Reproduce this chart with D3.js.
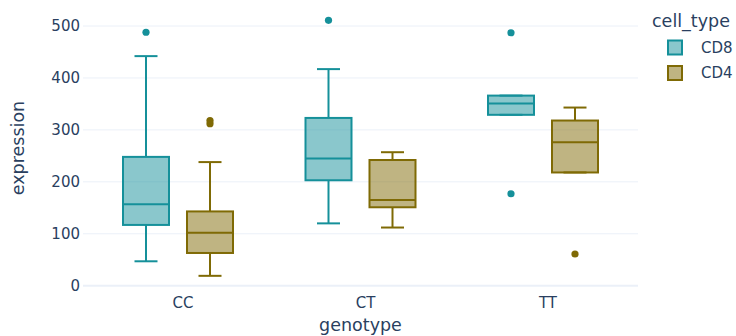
<!DOCTYPE html>
<html>
<head>
<meta charset="utf-8">
<script src="https://cdn.jsdelivr.net/npm/d3@7"></script>
<style>
  body { margin: 0; background: #fff; }
  svg { display: block; font-family: "DejaVu Sans", Verdana, sans-serif; }
</style>
</head>
<body>
<svg id="chart" width="736" height="336"></svg>
<script>
// categorias e séries
var genotypes = ["CC", "CT", "TT"];
var cellTypes = ["CD8", "CD4"];
var yTicks = [0, 100, 200, 300, 400, 500];

var cd8Lower = [47, 120, 329];
var cd8Q1 = [117, 203, 329];
var cd8Median = [157, 245, 351];
var cd8Q3 = [248, 323, 366];
var cd8Upper = [442, 417, 366];
var cd8Outliers = [[488], [511], [487, 177]];

var cd4Lower = [19, 112, 218];
var cd4Q1 = [63, 151, 218];
var cd4Median = [102, 165, 276];
var cd4Q3 = [143, 242, 318];
var cd4Upper = [238, 257, 343];
var cd4Outliers = [[312, 318], [], [61]];

var colors = { CD8: "#15909a", CD4: "#7f6a05" };
var textColor = "#2a3f5f";
var gridColor = "#ebf0f8";

// monta os boxes a partir dos arrays
var boxes = [];
genotypes.forEach(function (g, i) {
  boxes.push({ g: g, cell: "CD8", lo: cd8Lower[i], q1: cd8Q1[i], med: cd8Median[i], q3: cd8Q3[i], hi: cd8Upper[i], out: cd8Outliers[i] });
  boxes.push({ g: g, cell: "CD4", lo: cd4Lower[i], q1: cd4Q1[i], med: cd4Median[i], q3: cd4Q3[i], hi: cd4Upper[i], out: cd4Outliers[i] });
});

var svg = d3.select("#chart");
var left = 83, right = 638;

var x = d3.scalePoint().domain(genotypes).range([183, 548]);
var sub = d3.scaleBand().domain(cellTypes).range([-69, 59]);
var boxW = 46;
var y = d3.scaleLinear().domain([0, 500]).range([285.7, 26]);

// grade horizontal
svg.append("g").selectAll("line")
  .data(yTicks)
  .enter()
  .append("line")
  .attr("x1", left).attr("x2", right)
  .attr("y1", function (d) { return y(d); })
  .attr("y2", function (d) { return y(d); })
  .attr("stroke", gridColor)
  .attr("stroke-width", function (d) { return d === 0 ? 2 : 1; });

// rótulos do eixo y
svg.append("g").selectAll("text")
  .data(yTicks)
  .enter()
  .append("text")
  .attr("x", 80)
  .attr("y", function (d) { return y(d); })
  .attr("dy", "0.35em")
  .attr("text-anchor", "end")
  .attr("font-size", 15)
  .attr("fill", textColor)
  .text(function (d) { return d; });

// rótulos do eixo x
svg.append("g").selectAll("text")
  .data(genotypes)
  .enter()
  .append("text")
  .attr("x", function (d) { return x(d); })
  .attr("y", 308)
  .attr("text-anchor", "middle")
  .attr("font-size", 15)
  .attr("fill", textColor)
  .text(function (d) { return d; });

// títulos dos eixos
svg.append("text")
  .attr("x", (left + right) / 2).attr("y", 331)
  .attr("text-anchor", "middle")
  .attr("font-size", 17.5)
  .attr("fill", textColor)
  .text("genotype");

svg.append("text")
  .attr("transform", "translate(24,148) rotate(-90)")
  .attr("text-anchor", "middle")
  .attr("font-size", 17.5)
  .attr("fill", textColor)
  .text("expression");

function cx(d) { return x(d.g) + sub(d.cell) + sub.bandwidth() / 2; }

var box = svg.append("g").selectAll("g")
  .data(boxes)
  .enter()
  .append("g");

// bigodes
box.append("line")
  .attr("x1", cx).attr("x2", cx)
  .attr("y1", function (d) { return y(d.hi); })
  .attr("y2", function (d) { return y(d.q3); })
  .attr("stroke", function (d) { return colors[d.cell]; })
  .attr("stroke-width", 2);
box.append("line")
  .attr("x1", cx).attr("x2", cx)
  .attr("y1", function (d) { return y(d.q1); })
  .attr("y2", function (d) { return y(d.lo); })
  .attr("stroke", function (d) { return colors[d.cell]; })
  .attr("stroke-width", 2);
// tampas
[["hi"], ["lo"]].forEach(function (k) {
  box.append("line")
    .attr("x1", function (d) { return cx(d) - boxW / 4; })
    .attr("x2", function (d) { return cx(d) + boxW / 4; })
    .attr("y1", function (d) { return y(d[k[0]]); })
    .attr("y2", function (d) { return y(d[k[0]]); })
    .attr("stroke", function (d) { return colors[d.cell]; })
    .attr("stroke-width", 2);
});

// caixa
box.append("rect")
  .attr("x", function (d) { return cx(d) - boxW / 2; })
  .attr("y", function (d) { return y(d.q3); })
  .attr("width", boxW)
  .attr("height", function (d) { return y(d.q1) - y(d.q3); })
  .attr("fill", function (d) { return colors[d.cell]; })
  .attr("fill-opacity", 0.5)
  .attr("stroke", function (d) { return colors[d.cell]; })
  .attr("stroke-width", 2);

// mediana
box.append("line")
  .attr("x1", function (d) { return cx(d) - boxW / 2; })
  .attr("x2", function (d) { return cx(d) + boxW / 2; })
  .attr("y1", function (d) { return y(d.med); })
  .attr("y2", function (d) { return y(d.med); })
  .attr("stroke", function (d) { return colors[d.cell]; })
  .attr("stroke-width", 2);

// outliers
box.selectAll("circle")
  .data(function (d) { return d.out.map(function (v) { return { v: v, d: d }; }); })
  .enter()
  .append("circle")
  .attr("cx", function (o) { return cx(o.d); })
  .attr("cy", function (o) { return y(o.v); })
  .attr("r", 3.6)
  .attr("fill", function (o) { return colors[o.d.cell]; });

// legenda
var legend = svg.append("g");
legend.append("text")
  .attr("x", 652).attr("y", 27)
  .attr("font-size", 17.5)
  .attr("fill", textColor)
  .text("cell_type");

var item = legend.selectAll("g.item")
  .data(cellTypes)
  .enter()
  .append("g")
  .attr("class", "item")
  .attr("transform", function (d, i) { return "translate(0," + (47.5 + i * 25.5) + ")"; });
item.append("rect")
  .attr("x", 668).attr("y", -7)
  .attr("width", 14).attr("height", 14)
  .attr("fill", function (d) { return colors[d]; })
  .attr("fill-opacity", 0.5)
  .attr("stroke", function (d) { return colors[d]; })
  .attr("stroke-width", 2);
item.append("text")
  .attr("x", 701).attr("dy", "0.35em")
  .attr("font-size", 15)
  .attr("fill", textColor)
  .text(function (d) { return d; });
</script>
</body>
</html>
